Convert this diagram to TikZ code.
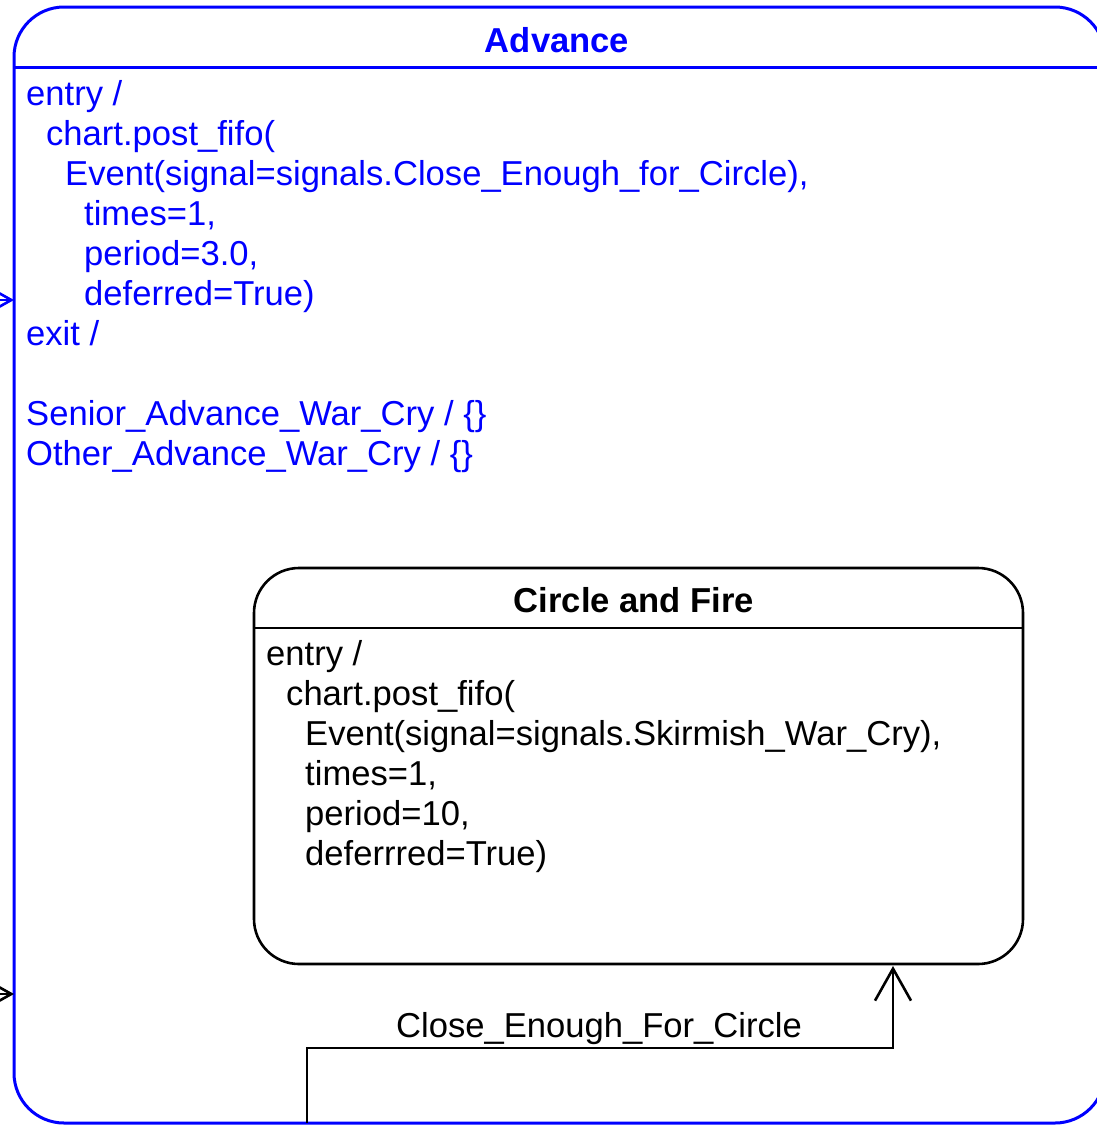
\documentclass[tikz,border=0pt]{standalone}
\usepackage{fontspec}
\setmainfont{Liberation Sans}
\usetikzlibrary{arrows.meta}
\definecolor{sblue}{RGB}{0,0,255}
\begin{document}
\begin{tikzpicture}[x=1pt,y=-1pt,
  txt/.style={font=\fontsize{34.6}{40}\selectfont, inner sep=0pt, align=left, anchor=base west},
  ttl/.style={font=\fontsize{34.6}{40}\selectfont\bfseries, inner sep=0pt, anchor=base},
  outerstate/.style={draw=sblue, line width=3pt, rounded corners=50pt, anchor=north west, inner sep=0pt, outer sep=0pt},
  innerstate/.style={draw=black, line width=2.6pt, rounded corners=45pt, anchor=north west, inner sep=0pt, outer sep=0pt},
  trans/.style={line width=2.6pt, -{Straight Barb[length=32pt,width=36pt]}}]
\useasboundingbox (0,0) rectangle (1097,1125);
\clip (0,0) rectangle (1097,1125);
% outer state
\node[outerstate, minimum width=1091pt, minimum height=1116pt] (adv) at (14,7) {};
\draw[sblue, line width=3pt] (14,67) -- (1105,67);
\node[ttl, text=sblue] (advtitle) at (557,52) {Advance};
% base anchor of a multi-line node is the baseline of its last line
\node[txt, text=sblue] (advbody) at (26,465) {entry /\\
\hspace*{20pt}chart.post\_fifo(\\
\hspace*{39pt}Event(signal=signals.Close\_Enough\_for\_Circle),\\
\hspace*{58pt}times=1,\\
\hspace*{58pt}period=3.0,\\
\hspace*{58pt}deferred=True)\\
exit /\\[40pt]
Senior\_Advance\_War\_Cry / \{\}\\
Other\_Advance\_War\_Cry / \{\}};
% inner state
\node[innerstate, minimum width=769pt, minimum height=396pt] (caf) at (254,568) {};
\draw[line width=2.6pt] (254,628) -- (1023,628);
\node[ttl] (caftitle) at (634,612) {Circle and Fire};
\node[txt] (cafbody) at (266,865) {entry /\\
\hspace*{20pt}chart.post\_fifo(\\
\hspace*{39pt}Event(signal=signals.Skirmish\_War\_Cry),\\
\hspace*{39pt}times=1,\\
\hspace*{39pt}period=10,\\
\hspace*{39pt}deferrred=True)};
% incoming arrows on left edge
\coordinate (in1) at (-40,300);
\coordinate (in2) at (-40,994);
\draw[trans, sblue] (in1) -- (adv.west |- in1);
\draw[trans] (in2) -- (adv.west |- in2);
% transition
\coordinate (tstart) at (307,1123);
\coordinate (tbend) at (307,1048);
\coordinate (tend) at (893,966);
\draw[trans] (tstart) -- (tbend) -| (tend);
\node[font=\fontsize{34.6}{40}\selectfont, inner sep=0pt, anchor=base] (tlabel) at (599,1037) {Close\_Enough\_For\_Circle};
\end{tikzpicture}
\end{document}
